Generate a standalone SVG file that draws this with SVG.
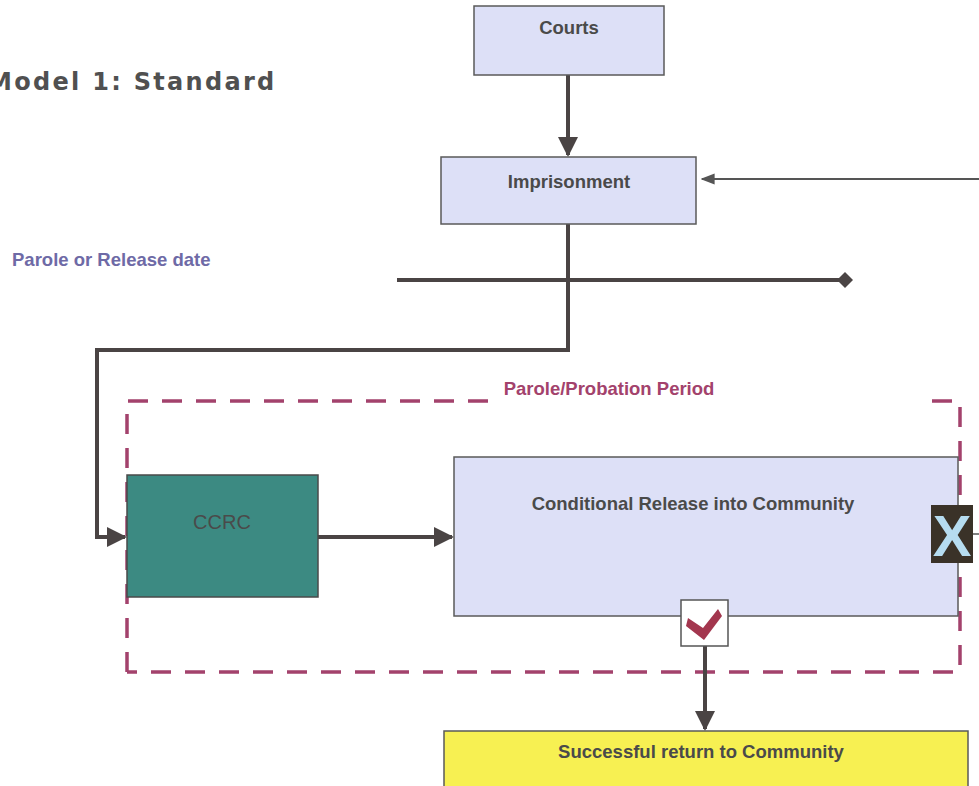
<svg xmlns="http://www.w3.org/2000/svg" width="979" height="786" viewBox="0 0 979 786">
<defs>
<style>
.box{fill:#dde0f7;stroke:#5a5a5a;stroke-width:1.5}
.lbl{font-family:"Liberation Sans",Arial,sans-serif;font-weight:bold;font-size:18.5px;fill:#4a4a4a;text-anchor:middle}
.conn{fill:none;stroke:#4a4444;stroke-width:4}
.thin{fill:none;stroke:#555;stroke-width:2}
.dash{fill:none;stroke:#a3426c;stroke-width:3.5;stroke-dasharray:20 14}
</style>
<marker id="ah" viewBox="0 0 10 10" refX="9" refY="5" markerWidth="5" markerHeight="5" orient="auto" markerUnits="strokeWidth">
<path d="M0,0 L10,5 L0,10 Z" fill="#4a4444"/>
</marker>
<marker id="ahThin" viewBox="0 0 10 10" refX="9" refY="5" markerWidth="7" markerHeight="7" orient="auto" markerUnits="strokeWidth">
<path d="M0,1 L10,5 L0,9 Z" fill="#555"/>
</marker>
</defs>
<rect width="979" height="786" fill="#ffffff"/>
<text x="-12" y="90" font-family="'DejaVu Sans',sans-serif" font-weight="bold" font-size="24" letter-spacing="2.3" fill="#505050">Model 1: Standard</text>
<text x="12" y="266" font-family="'Liberation Sans',Arial,sans-serif" font-weight="bold" font-size="18.5" fill="#6e6aa6">Parole or Release date</text>
<g id="probation">
<path class="dash" d="M127,672 L127,401 L490,401"/>
<path class="dash" d="M932,401 L960,401 L960,672 L127,672"/>
<text x="609" y="395" font-family="'Liberation Sans',Arial,sans-serif" font-weight="bold" font-size="18.5" fill="#a3426c" text-anchor="middle">Parole/Probation Period</text>
</g>
<g id="connectors">
<line class="conn" x1="568" y1="75" x2="568" y2="155" marker-end="url(#ah)"/>
<line class="thin" x1="979" y1="179" x2="702" y2="179" marker-end="url(#ahThin)"/>
<line class="conn" x1="397" y1="280" x2="840" y2="280" stroke-width="3"/>
<path d="M845,272 L853,280 L845,288 L837,280 Z" fill="#4a4444"/>
<path class="conn" d="M568,224 L568,350 L97,350 L97,537 L125,537" marker-end="url(#ah)"/>
<line class="conn" x1="318" y1="537" x2="452" y2="537" marker-end="url(#ah)"/>
<line class="conn" x1="705" y1="646" x2="705" y2="729" marker-end="url(#ah)"/>
<line x1="972" y1="534" x2="979" y2="534" stroke="#555" stroke-width="1.5"/>
</g>
<g id="courts">
<rect class="box" x="474" y="6" width="190" height="69"/>
<text class="lbl" x="569" y="34">Courts</text>
</g>
<g id="imprisonment">
<rect class="box" x="441" y="157" width="255" height="67"/>
<text class="lbl" x="569" y="188">Imprisonment</text>
</g>
<g id="ccrc">
<rect x="127" y="475" width="191" height="122" fill="#3c8a82" stroke="#4a4a4a" stroke-width="1.5"/>
<text class="lbl" x="222" y="529" style="font-weight:normal;font-size:20px" fill="#333">CCRC</text>
</g>
<g id="conditional">
<rect class="box" x="454" y="457" width="504" height="159"/>
<text class="lbl" x="693" y="510">Conditional Release into Community</text>
</g>
<g id="fail">
<rect x="931" y="505" width="42" height="58" fill="#3a3228"/>
<text x="952" y="556" font-family="'Liberation Sans',Arial,sans-serif" font-weight="bold" font-size="58" fill="#b6dcf0" text-anchor="middle">X</text>
</g>
<g id="success-check">
<rect x="681" y="600" width="47" height="46" fill="#ffffff" stroke="#555" stroke-width="1.5"/>
<path d="M688,618 L703,628 L718,609 L722,616 L704,640 L686,626 Z" fill="#a3364e"/>
</g>
<g id="successful">
<rect x="444" y="731" width="524" height="60" fill="#f7f052" stroke="#5a5a5a" stroke-width="1.5"/>
<text class="lbl" x="701" y="758">Successful return to Community</text>
</g>
</svg>
